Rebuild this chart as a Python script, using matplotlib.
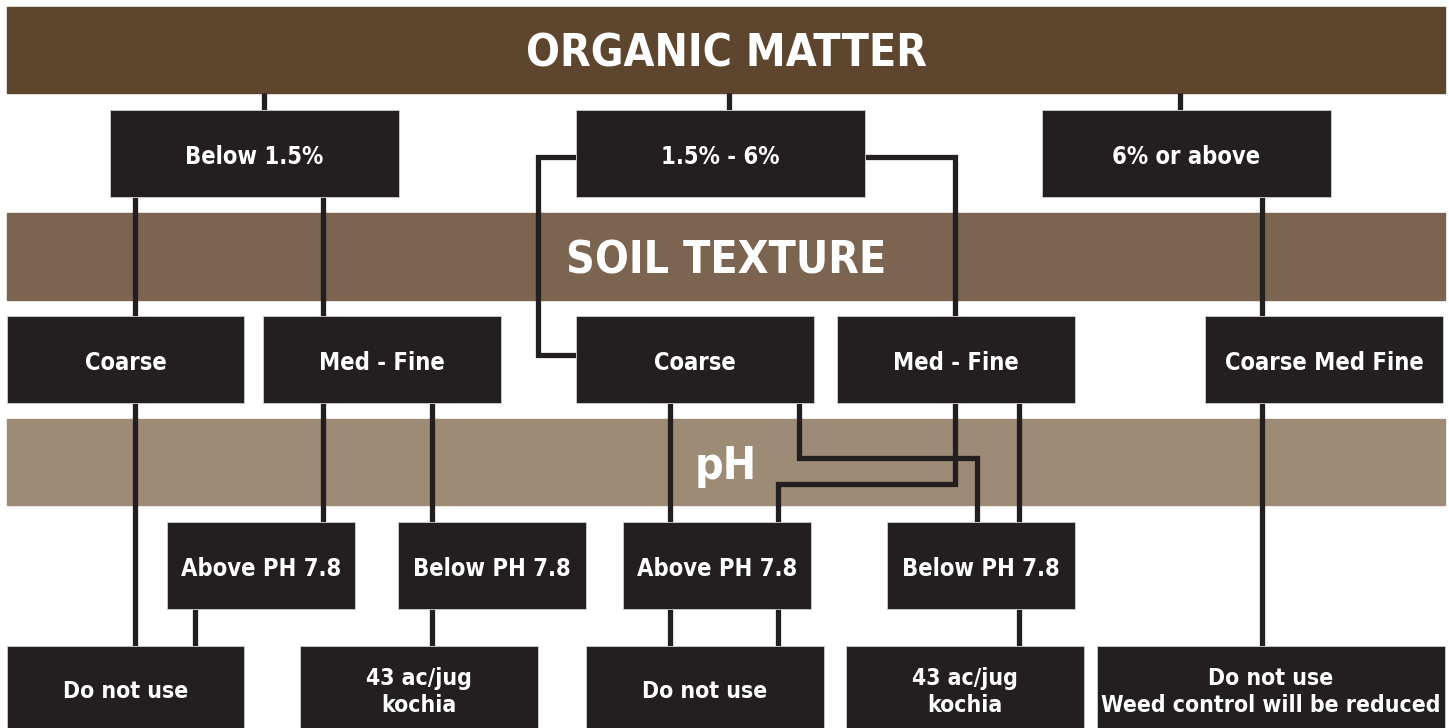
import matplotlib
matplotlib.use("Agg")
from matplotlib import pyplot as plt
from matplotlib.patches import Rectangle

# labels
bands = ["ORGANIC MATTER", "SOIL TEXTURE", "pH"]
om_levels = ["Below 1.5%", "1.5% - 6%", "6% or above"]
textures = ["Coarse", "Med - Fine", "Coarse", "Med - Fine", "Coarse Med Fine"]
ph_levels = ["Above PH 7.8", "Below PH 7.8", "Above PH 7.8", "Below PH 7.8"]
results = ["Do not use", "43 ac/jug\nkochia", "Do not use", "43 ac/jug\nkochia",
           "Do not use\nWeed control will be reduced"]

band_colors = ["#5e452e", "#7b6450", "#9e8b76"]
box_color = "#231f20"
font = ["DejaVu Sans"]

# layout (pixel coords)
band_y = [(7, 93), (213, 300), (419, 505)]
om_x = [(110, 399), (576, 865), (1042, 1331)]
tex_x = [(7, 244), (263, 501), (576, 814), (837, 1075), (1205, 1443)]
ph_x = [(167, 355), (398, 586), (623, 811), (887, 1075)]
res_x = [(7, 244), (300, 538), (586, 824), (846, 1084), (1097, 1445)]
row_y = {"om": (110, 197), "tex": (316, 403), "ph": (522, 609), "res": (646, 740)}

# connector paths
paths = [
    [(264, 93), (264, 110)],
    [(729, 93), (729, 110)],
    [(1180, 93), (1180, 110)],
    [(135, 197), (135, 646)],
    [(323, 197), (323, 522)],
    [(432, 403), (432, 646)],
    [(195, 609), (195, 646)],
    [(576, 157), (538, 157), (538, 355), (576, 355)],
    [(865, 157), (955, 157), (955, 316)],
    [(670, 403), (670, 646)],
    [(799, 403), (799, 458), (977, 458), (977, 522)],
    [(955, 403), (955, 484), (778, 484), (778, 646)],
    [(1019, 403), (1019, 646)],
    [(1262, 197), (1262, 646)],
]

fig = plt.figure(figsize=(14.49, 7.28), dpi=100)
ax = fig.add_axes([0, 0, 1, 1])
ax.set_xlim(0, 1449)
ax.set_ylim(728, 0)
ax.axis("off")

for label, (y0, y1), c in zip(bands, band_y, band_colors):
    ax.add_patch(Rectangle((7, y0), 1438, y1 - y0, color=c, zorder=1))
    ax.text(726, (y0 + y1) / 2 + 4, label, color="white", fontsize=32,
            fontweight="bold", fontstretch="condensed", family=font,
            ha="center", va="center", zorder=2)

for p in paths:
    xs, ys = zip(*p)
    ax.plot(xs, ys, color=box_color, lw=3.8, solid_joinstyle="miter",
            solid_capstyle="butt", zorder=3)


def boxes(labels, xs, key, size=17):
    y0, y1 = row_y[key]
    for label, (x0, x1) in zip(labels, xs):
        ax.add_patch(Rectangle((x0, y0), x1 - x0, y1 - y0, facecolor=box_color,
                               edgecolor="#cfcfcf", lw=0.6, zorder=4))
        yc = (y0 + y1) / 2 + 3 if key != "res" else 692
        ax.text((x0 + x1) / 2, yc, label, color="white", fontsize=size,
                fontweight="bold", fontstretch="condensed", family=font,
                ha="center", va="center", linespacing=1.2, zorder=5)


boxes(om_levels, om_x, "om")
boxes(textures, tex_x, "tex")
boxes(ph_levels, ph_x, "ph")
boxes(results, res_x, "res", size=16.5)

fig.savefig("out.png", dpi=100)
